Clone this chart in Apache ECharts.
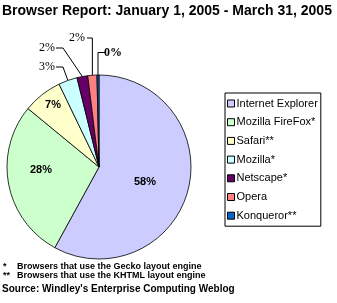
<!DOCTYPE html>
<html>
<head>
<meta charset="utf-8">
<script src="https://cdn.jsdelivr.net/npm/echarts@6/dist/echarts.min.js"></script>
<style>
html,body{margin:0;padding:0;background:#fff;}
#chart{width:337px;height:303px;}
</style>
</head>
<body>
<div id="chart"></div>
<script>
// ---- data ----
const browsers = ['Internet Explorer', 'Mozilla FireFox*', 'Safari**', 'Mozilla*', 'Netscape*', 'Opera', 'Konqueror**'];
const shares = [58, 28, 6.9, 3.3, 1.9, 1.6, 0.35];
const colors = ['#ccccff', '#ccffcc', '#ffffcc', '#ccffff', '#660066', '#ff8080', '#0066cc'];
const titleText = 'Browser Report: January 1, 2005 - March 31, 2005';
const footnotes = [['*', 'Browsers that use the Gecko layout engine'], ['**', 'Browsers that use the KHTML layout engine']];
const sourceText = "Source: Windley's Enterprise Computing Weblog";

// ---- label layout (pixel placement of labels, not of marks) ----
// inside labels: [x, y]; outside: {pos:[x,y], bend:'vertical'|[x], end:[x]}
const labelPlace = [
  {pos: [145, 182]},
  {pos: [41, 170]},
  {pos: [53, 105]},
  {pos: [47, 67], bend: 63, end: 56},
  {pos: [47, 48], bend: 63, end: 56},
  {pos: [77, 38], bend: 'v', end: 87},
  {pos: [113, 52.5], bend: 'v', end: 105}
];
const outsideIdx = [3, 4, 5, 6];

const chart = echarts.init(document.getElementById('chart'), null, {renderer: 'canvas'});

const pieData = browsers.map((name, i) => {
  const outside = outsideIdx.indexOf(i) >= 0;
  return {
    name: name,
    value: shares[i],
    itemStyle: {color: colors[i]},
    label: outside ? {
      position: 'outside',
      fontFamily: '"Liberation Serif", "Times New Roman", serif',
      fontSize: 12,
      fontWeight: i === 6 ? 'bold' : 'normal',
      color: '#000'
    } : {
      position: 'inside',
      fontFamily: '"Liberation Sans", Arial, sans-serif',
      fontSize: 11,
      fontWeight: 'bold',
      color: '#000'
    },
    labelLine: {show: outside}
  };
});

const option = {
  animation: false,
  backgroundColor: '#fff',
  title: {
    text: titleText,
    left: -3,
    top: -1,
    textStyle: {fontFamily: '"Liberation Sans", Arial, sans-serif', fontSize: 14, fontWeight: 'bold', color: '#000'}
  },
  legend: {
    orient: 'vertical',
    left: 225,
    top: 93,
    data: browsers,
    icon: 'rect',
    itemWidth: 7,
    itemHeight: 7,
    itemGap: 5.7,
    padding: [4, 3, 4, 2],
    borderColor: '#000',
    borderWidth: 1,
    backgroundColor: '#fff',
    borderRadius: 0,
    selectedMode: false,
    textStyle: {fontFamily: '"Liberation Sans", Arial, sans-serif', fontSize: 11, color: '#000', padding: [0, 0, 0, -3], lineHeight: 13},
    itemStyle: {borderColor: '#000', borderWidth: 1}
  },
  series: [{
    type: 'pie',
    center: [99, 167],
    radius: 92,
    startAngle: 90,
    clockwise: true,
    avoidLabelOverlap: false,
    minShowLabelAngle: 0,
    itemStyle: {borderColor: '#000', borderWidth: 0.8},
    emphasis: {disabled: true},
    label: {
      show: true,
      formatter: p => Math.round(p.value) + '%'
    },
    labelLine: {show: true, smooth: false, length: 10, length2: 8, lineStyle: {color: '#000', width: 1}},
    labelLayout: function (params) {
      const lp = labelPlace[params.dataIndex];
      const res = {x: lp.pos[0], y: lp.pos[1], align: 'center', verticalAlign: 'middle'};
      if (lp.end !== undefined && params.labelLinePoints) {
        const p0 = params.labelLinePoints[0];
        const y = lp.pos[1];
        const bx = lp.bend === 'v' ? p0[0] : lp.bend;
        res.labelLinePoints = [p0, [bx, y], [lp.end, y]];
      }
      return res;
    },
    data: pieData
  }],
  graphic: [
    {type: 'text', left: 3, top: 262, style: {text: footnotes[0][0], font: 'bold 9px "Liberation Sans", Arial, sans-serif', fill: '#000'}},
    {type: 'text', left: 17, top: 262, style: {text: footnotes[0][1], font: 'bold 9px "Liberation Sans", Arial, sans-serif', fill: '#000'}},
    {type: 'text', left: 3, top: 271, style: {text: footnotes[1][0], font: 'bold 9px "Liberation Sans", Arial, sans-serif', fill: '#000'}},
    {type: 'text', left: 17, top: 271, style: {text: footnotes[1][1], font: 'bold 9px "Liberation Sans", Arial, sans-serif', fill: '#000'}},
    {type: 'text', left: 2, top: 284, style: {text: sourceText, font: 'bold 10px "Liberation Sans", Arial, sans-serif', fill: '#000'}}
  ]
};
chart.setOption(option);
</script>
</body>
</html>
